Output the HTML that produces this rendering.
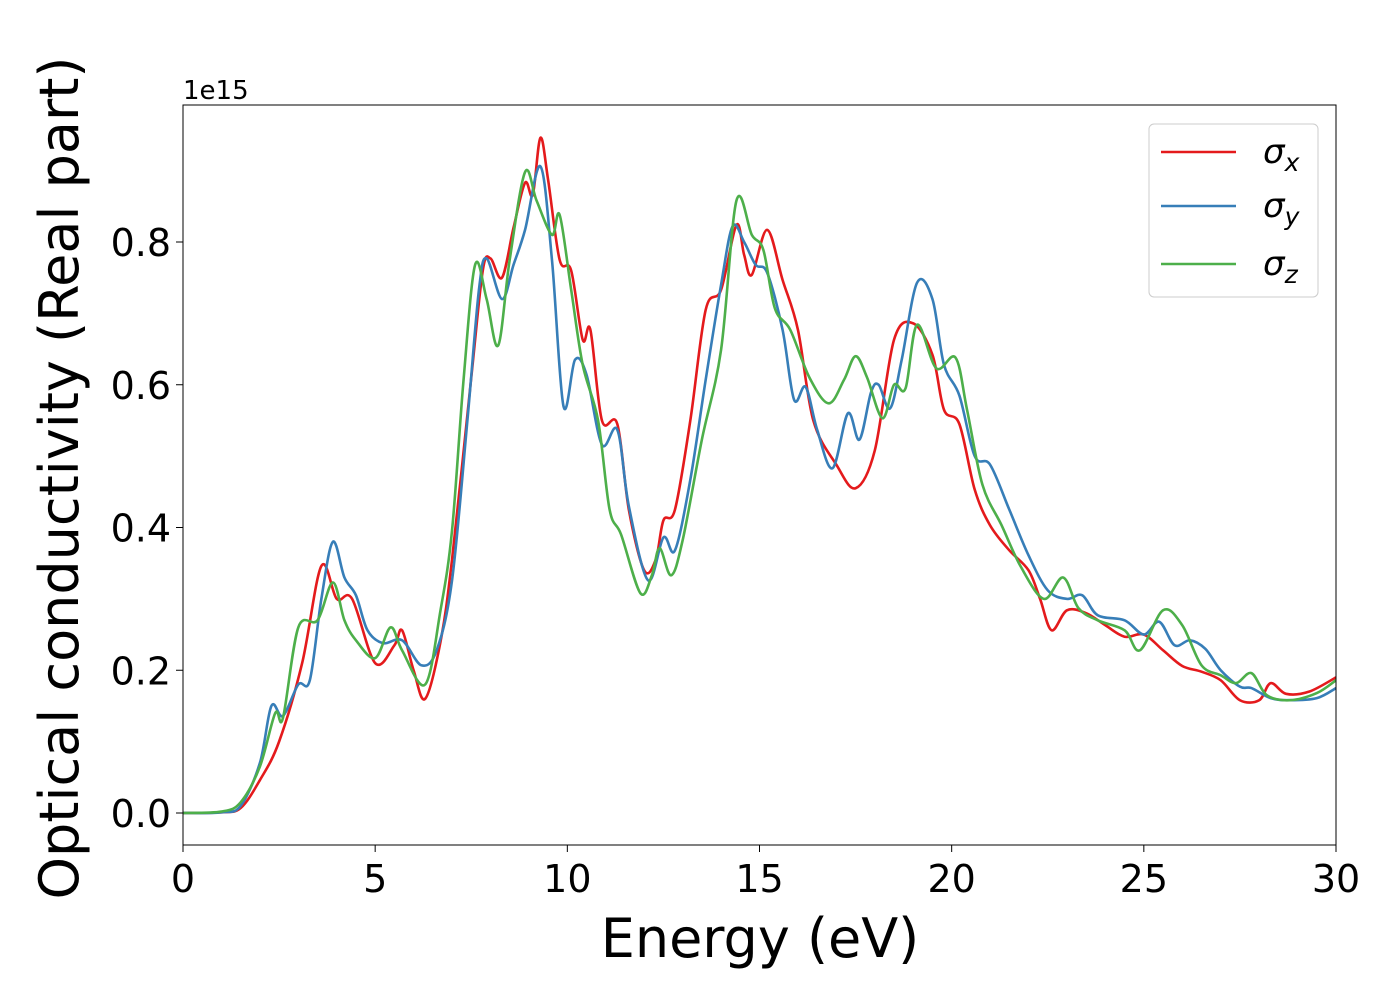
<!DOCTYPE html>
<html><head><meta charset="utf-8"><style>
body{margin:0;background:#fff}
svg text{font-family:"DejaVu Sans","Liberation Sans",sans-serif}
</style></head><body>
<svg id="c" width="1400" height="1000" xmlns="http://www.w3.org/2000/svg"></svg>
<script>
const xTicks=[0,5,10,15,20,25,30];
const yTicks=[0.0,0.2,0.4,0.6,0.8];
const yTickLabels=["0.0","0.2","0.4","0.6","0.8"];
const sxE=[0,1,1.5,2,2.5,3.1,3.6,4,4.4,5,5.5,5.7,6,6.3,6.7,7,7.5,7.8,8,8.3,8.6,8.9,9.1,9.3,9.5,9.8,10.1,10.4,10.6,10.9,11.3,11.6,12,12.3,12.5,12.8,13.2,13.6,14,14.4,14.6,14.8,15.2,15.6,16,16.4,17,17.5,18,18.5,19,19.5,19.8,20.2,20.6,21,21.5,22,22.3,22.6,23,23.5,24,24.5,25,25.5,26,26.5,27,27.5,28,28.3,28.7,29.3,30];
const sxV=[0,0.001,0.007,0.046,0.10,0.21,0.346,0.30,0.30,0.21,0.235,0.256,0.20,0.16,0.24,0.355,0.61,0.76,0.777,0.75,0.82,0.883,0.866,0.946,0.887,0.775,0.76,0.663,0.677,0.55,0.545,0.425,0.34,0.355,0.41,0.425,0.55,0.705,0.733,0.824,0.782,0.754,0.817,0.747,0.677,0.55,0.488,0.455,0.508,0.663,0.686,0.642,0.565,0.545,0.453,0.403,0.368,0.34,0.30,0.256,0.284,0.28,0.263,0.247,0.25,0.228,0.206,0.198,0.186,0.158,0.158,0.182,0.167,0.17,0.19];
const syE=[0,1,1.5,2,2.3,2.6,3,3.3,3.6,3.9,4.2,4.5,4.8,5.2,5.7,6.2,6.6,7,7.4,7.7,7.9,8.3,8.6,8.9,9.3,9.6,9.9,10.2,10.5,10.9,11.3,11.6,12.1,12.5,12.8,13.2,13.6,14,14.3,14.6,14.9,15.2,15.6,15.9,16.2,16.5,16.9,17.3,17.6,17.9,18.1,18.4,18.7,19.1,19.5,19.8,20.2,20.6,21,21.5,22,22.5,23,23.4,23.8,24.5,25,25.4,25.8,26.2,26.6,27,27.5,27.8,28.3,28.8,29.5,30];
const syV=[0,0.001,0.01,0.07,0.15,0.136,0.18,0.186,0.30,0.38,0.33,0.305,0.256,0.238,0.242,0.207,0.228,0.326,0.55,0.733,0.777,0.72,0.768,0.817,0.906,0.775,0.57,0.635,0.614,0.516,0.537,0.43,0.326,0.386,0.368,0.467,0.607,0.74,0.822,0.80,0.768,0.757,0.677,0.579,0.597,0.537,0.483,0.56,0.523,0.589,0.60,0.567,0.635,0.743,0.72,0.628,0.585,0.50,0.488,0.425,0.361,0.312,0.30,0.305,0.277,0.27,0.25,0.268,0.235,0.242,0.23,0.20,0.177,0.175,0.161,0.158,0.161,0.175];
const szE=[0,1,1.5,2,2.4,2.6,3,3.5,3.9,4.2,4.5,5,5.4,5.7,6.3,6.7,7,7.3,7.6,7.9,8.2,8.5,8.9,9.2,9.6,9.8,10.1,10.4,10.8,11.1,11.4,11.9,12.2,12.4,12.7,13,13.5,14,14.4,14.8,15.1,15.4,15.8,16.3,16.8,17.2,17.5,17.8,18.2,18.5,18.8,19.1,19.6,20.1,20.4,20.8,21.3,21.8,22.4,22.9,23.3,23.8,24.5,24.9,25.5,26,26.5,27,27.4,27.8,28.2,28.8,29.5,30];
const szV=[0,0.002,0.015,0.065,0.14,0.133,0.26,0.27,0.323,0.27,0.242,0.217,0.26,0.228,0.18,0.284,0.396,0.607,0.768,0.72,0.655,0.775,0.898,0.858,0.81,0.838,0.733,0.628,0.55,0.425,0.39,0.308,0.333,0.371,0.333,0.382,0.523,0.649,0.858,0.81,0.789,0.707,0.677,0.61,0.574,0.607,0.64,0.61,0.553,0.60,0.595,0.684,0.623,0.638,0.565,0.46,0.403,0.345,0.30,0.33,0.287,0.27,0.256,0.228,0.284,0.263,0.207,0.193,0.182,0.196,0.165,0.158,0.168,0.186];

const L=183,R=1336,T=105,B=845;
const X=e=>L+(e-0)/30*(R-L);
const Y=v=>813-v*713.75;
const svg=document.getElementById('c');
const NS="http://www.w3.org/2000/svg";
function mk(t,a,p){const el=document.createElementNS(NS,t);for(const k in a)el.setAttribute(k,a[k]);(p||svg).appendChild(el);return el;}

const clip=mk('clipPath',{id:'pc'});mk('rect',{x:L,y:T,width:R-L,height:B-T},clip);

function path(E,V){
  const p=E.map((e,i)=>[X(e),Y(V[i])]);
  let d=`M${p[0][0]},${p[0][1]}`;
  for(let i=0;i<p.length-1;i++){
    const p0=p[i-1]||p[i],p1=p[i],p2=p[i+1],p3=p[i+2]||p2;
    const c1=[p1[0]+(p2[0]-p0[0])/6,p1[1]+(p2[1]-p0[1])/6];
    const c2=[p2[0]-(p3[0]-p1[0])/6,p2[1]-(p3[1]-p1[1])/6];
    d+=`C${c1[0]},${c1[1]} ${c2[0]},${c2[1]} ${p2[0]},${p2[1]}`;
  }
  return d;
}
const g=mk('g',{'clip-path':'url(#pc)'});


const series=[[sxE,sxV,'#e41a1c','sigma-x-line'],[syE,syV,'#377eb8','sigma-y-line'],[szE,szV,'#4daf4a','sigma-z-line']];
series.forEach(s=>{
  const el=mk('path',{d:path(s[0],s[1]),fill:'none',stroke:s[2],'stroke-width':2.6,'stroke-linejoin':'round'},g);
  
  
});
const fr=mk('rect',{x:L,y:T,width:R-L,height:B-T,fill:'none',stroke:'#000','stroke-width':1});



xTicks.forEach(t=>{
  const x=X(t);
  mk('line',{x1:x,x2:x,y1:B,y2:B+7,stroke:'#000','stroke-width':1});
  const tx=mk('text',{x:x,y:B+47,'font-size':38,'text-anchor':'middle'});tx.textContent=t;
  
  
});
yTicks.forEach((t,i)=>{
  const y=Y(t);
  mk('line',{x1:L-7,x2:L,y1:y,y2:y,stroke:'#000','stroke-width':1});
  const tx=mk('text',{x:L-12,y:y+14,'font-size':38,'text-anchor':'end'});tx.textContent=yTickLabels[i];
  
  
});
const ex=mk('text',{x:L,y:99,'font-size':26});ex.textContent='1e15';


const xl=mk('text',{x:760,y:957,'font-size':54,'text-anchor':'middle'});xl.textContent='Energy (eV)';


const yl=mk('text',{x:0,y:0,'font-size':54,'text-anchor':'middle',transform:'translate(78,478) rotate(-90)'});yl.textContent='Optical conductivity (Real part)';



const lg=mk('g',{});


mk('rect',{x:1149,y:124,width:169,height:173,rx:5,fill:'#fff','fill-opacity':0.8,stroke:'#ccc','stroke-width':1},lg);
const subs=['x','y','z'];const ly=[152,206,264];
series.forEach((s,i)=>{
  mk('line',{x1:1161,x2:1236,y1:ly[i],y2:ly[i],stroke:s[2],'stroke-width':2.6},lg);
  const t=mk('text',{x:1263,y:ly[i]+11,'font-size':34,'font-style':'italic'},lg);
  t.textContent='σ';
  const ts=mk('tspan',{'font-size':25,dy:8},t);ts.textContent=subs[i];
  
  
});
</script>
</body></html>
